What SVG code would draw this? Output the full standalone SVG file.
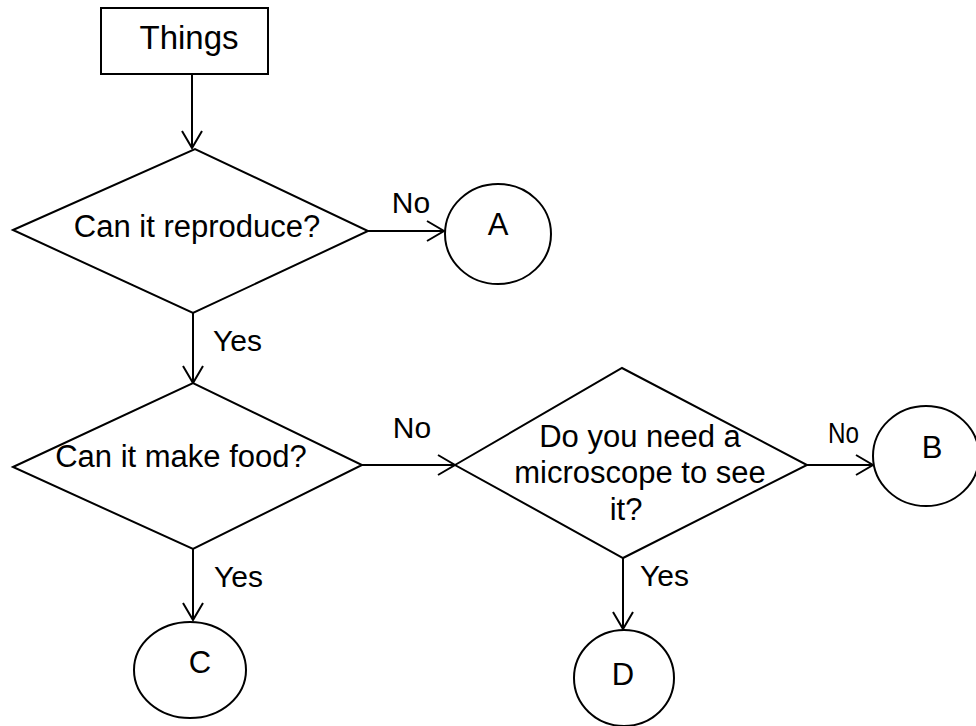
<svg xmlns="http://www.w3.org/2000/svg" width="976" height="726" viewBox="0 0 976 726">
<style>
.shape{fill:#fff;stroke:#000;stroke-width:2}
.conn{fill:none;stroke:#000;stroke-width:2}
text{font-family:"Liberation Sans",Arial,sans-serif;font-size:31px;fill:#000}
.c{text-anchor:middle}
.lbl{font-size:30px}
</style>
<defs>
<marker id="arr" markerUnits="userSpaceOnUse" orient="auto" overflow="visible" markerWidth="20" markerHeight="24" refX="0" refY="0">
<path d="M-17,-10 L0,0 L-17,10" fill="none" stroke="#000" stroke-width="2"/>
</marker>
</defs>
<rect width="976" height="726" fill="#fff"/>
<g id="connectors">
<path class="conn" d="M192,74 L192,148" marker-end="url(#arr)"/>
<path class="conn" d="M368,231 L444,231" marker-end="url(#arr)"/>
<path class="conn" d="M193,313 L193,383" marker-end="url(#arr)"/>
<path class="conn" d="M193,549 L193,620" marker-end="url(#arr)"/>
<path class="conn" d="M362,465 L455,465" marker-end="url(#arr)"/>
<path class="conn" d="M807,465 L873,465" marker-end="url(#arr)"/>
<path class="conn" d="M623,558 L623,629" marker-end="url(#arr)"/>
<text class="c lbl" x="411" y="213">No</text>
<text class="lbl" x="213" y="351">Yes</text>
<text class="c lbl" x="412" y="438">No</text>
<text class="lbl" x="214" y="587">Yes</text>
<text class="lbl" x="828" y="443" textLength="31" lengthAdjust="spacingAndGlyphs">No</text>
<text class="lbl" x="640" y="586">Yes</text>
</g>
<g id="things">
<rect class="shape" x="101" y="8" width="167" height="66"/>
<text class="c" x="189" y="49" style="font-size:33px">Things</text>
</g>
<g id="q-reproduce">
<polygon class="shape" points="13,230 195,149 368,231 193,313"/>
<text class="c" x="197" y="237">Can it reproduce?</text>
</g>
<g id="circle-a">
<ellipse class="shape" cx="498" cy="234" rx="53" ry="50"/>
<text class="c" x="498" y="235">A</text>
</g>
<g id="q-food">
<polygon class="shape" points="13,467 193,383 362,465 193,549"/>
<text class="c" x="181" y="467">Can it make food?</text>
</g>
<g id="q-microscope">
<polygon class="shape" points="455,465 622,368 807,465 623,558"/>
<text class="c" x="640" y="447">Do you need a</text>
<text class="c" x="640" y="483">microscope to see</text>
<text class="c" x="626" y="520">it?</text>
</g>
<g id="circle-b">
<ellipse class="shape" cx="926" cy="456" rx="53" ry="50"/>
<text class="c" x="932" y="458">B</text>
</g>
<g id="circle-c">
<ellipse class="shape" cx="190" cy="670" rx="56" ry="48"/>
<text class="c" x="200" y="673">C</text>
</g>
<g id="circle-d">
<ellipse class="shape" cx="624" cy="678" rx="50" ry="48"/>
<text class="c" x="623" y="685">D</text>
</g>
</svg>
